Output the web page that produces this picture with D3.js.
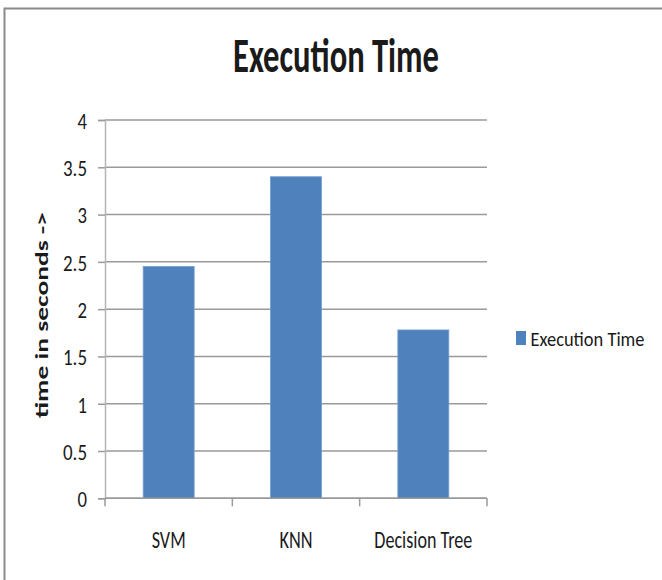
<!DOCTYPE html>
<html>
<head>
<meta charset="utf-8">
<script src="https://cdn.jsdelivr.net/npm/d3@7"></script>
<style>
  html, body { margin: 0; padding: 0; background: #fff; }
  svg { display: block; }
  text { font-family: Carlito, "Liberation Sans Narrow", "Open Sans", sans-serif; fill: #1a1a1a; }
</style>
</head>
<body>
<svg id="chart" width="662" height="580"></svg>
<script>
// Execution time of each classifier, in seconds
const categories = ["SVM", "KNN", "Decision Tree"];
const executionTime = [2.45, 3.40, 1.78];
const yTickValues = [0, 0.5, 1, 1.5, 2, 2.5, 3, 3.5, 4];
const yTickLabels = ["0", "0.5", "1", "1.5", "2", "2.5", "3", "3.5", "4"];
const seriesName = "Execution Time";
const chartTitle = "Execution Time";
const yAxisTitle = "time in seconds ->";

const svg = d3.select("#chart");
const plot = { left: 105, right: 487, top: 120, bottom: 498.3 };
const barColor = "#4f81bd";
const fontStack = 'Carlito, "Liberation Sans Narrow", "Open Sans", sans-serif';

// outer frame
svg.append("rect")
  .attr("x", 4.5).attr("y", 8.5)
  .attr("width", 700).attr("height", 600)
  .attr("fill", "none")
  .attr("stroke", "#8a8a8a")
  .attr("stroke-width", 2);

const x = d3.scaleBand()
  .domain(categories)
  .range([plot.left, plot.right])
  .paddingInner(0)
  .paddingOuter(0);

const y = d3.scaleLinear()
  .domain([0, 4])
  .range([plot.bottom, plot.top]);

// horizontal gridlines
svg.append("g")
  .selectAll("line")
  .data(yTickValues)
  .join("line")
  .attr("x1", plot.left).attr("x2", plot.right)
  .attr("y1", d => y(d)).attr("y2", d => y(d))
  .attr("stroke", "#9a9a9a")
  .attr("stroke-width", 1.5);

// y axis
const yAxis = d3.axisLeft(y)
  .tickValues(yTickValues)
  .tickFormat((d, i) => yTickLabels[i])
  .tickSize(7)
  .tickPadding(11);

const gy = svg.append("g")
  .attr("transform", `translate(${plot.left},0)`)
  .call(yAxis)
  .attr("font-size", 23);
gy.select(".domain").attr("stroke", "#b5b5b5").attr("stroke-width", 1.5);
gy.selectAll(".tick line").attr("stroke", "#9a9a9a").attr("stroke-width", 1.5);
gy.selectAll(".tick text")
  .attr("fill", "#1a1a1a")
  .attr("dy", "0.36em")
  .attr("textLength", (d, i) => yTickLabels[i].length > 1 ? 24 : 9.5)
  .attr("lengthAdjust", "spacingAndGlyphs")
  .style("font-family", fontStack)
  .style("font-size", "23px");

// bars
const barWidth = x.bandwidth() * 0.4;
svg.append("g")
  .selectAll("rect")
  .data(executionTime)
  .join("rect")
  .attr("x", (d, i) => x(categories[i]) + (x.bandwidth() - barWidth) / 2)
  .attr("y", d => y(d))
  .attr("width", barWidth)
  .attr("height", d => y(0) - y(d))
  .attr("fill", barColor)
  .attr("stroke", "#6f9bd0")
  .attr("stroke-width", 0.8);

// x axis line and category separators
const gx = svg.append("g");
gx.append("line")
  .attr("x1", plot.left).attr("x2", plot.right)
  .attr("y1", y(0)).attr("y2", y(0))
  .attr("stroke", "#9a9a9a").attr("stroke-width", 1.5);
const boundaries = categories.map(c => x(c)).concat([x(categories[categories.length - 1]) + x.bandwidth()]);
gx.selectAll("line.sep")
  .data(boundaries)
  .join("line")
  .attr("class", "sep")
  .attr("x1", d => d).attr("x2", d => d)
  .attr("y1", y(0)).attr("y2", y(0) + 8)
  .attr("stroke", "#9a9a9a").attr("stroke-width", 1.5);

// category labels
const labelWidths = [34, 33, 98];
gx.selectAll("text")
  .data(categories)
  .join("text")
  .attr("x", d => x(d) + x.bandwidth() / 2)
  .attr("y", 548.3)
  .attr("text-anchor", "middle")
  .style("font-size", "24px")
  .attr("textLength", (d, i) => labelWidths[i])
  .attr("lengthAdjust", "spacingAndGlyphs")
  .text(d => d);

// chart title
svg.append("text")
  .attr("x", 336)
  .attr("y", 71.7)
  .attr("text-anchor", "middle")
  .style("font-size", "49px")
  .attr("font-weight", "bold")
  .attr("textLength", 206)
  .attr("lengthAdjust", "spacingAndGlyphs")
  .text(chartTitle);

// y axis title
svg.append("text")
  .attr("transform", "translate(48,315) rotate(-90)")
  .attr("text-anchor", "middle")
  .style("font-size", "19px")
  .attr("font-weight", "bold")
  .attr("textLength", 206)
  .attr("lengthAdjust", "spacingAndGlyphs")
  .text(yAxisTitle);

// legend
const legend = svg.append("g");
legend.append("rect")
  .attr("x", 516).attr("y", 331)
  .attr("width", 10).attr("height", 14)
  .attr("fill", barColor);
legend.append("text")
  .attr("x", 530.5)
  .attr("y", 346)
  .style("font-size", "21px")
  .attr("textLength", 114)
  .attr("lengthAdjust", "spacingAndGlyphs")
  .text(seriesName);
</script>
</body>
</html>
